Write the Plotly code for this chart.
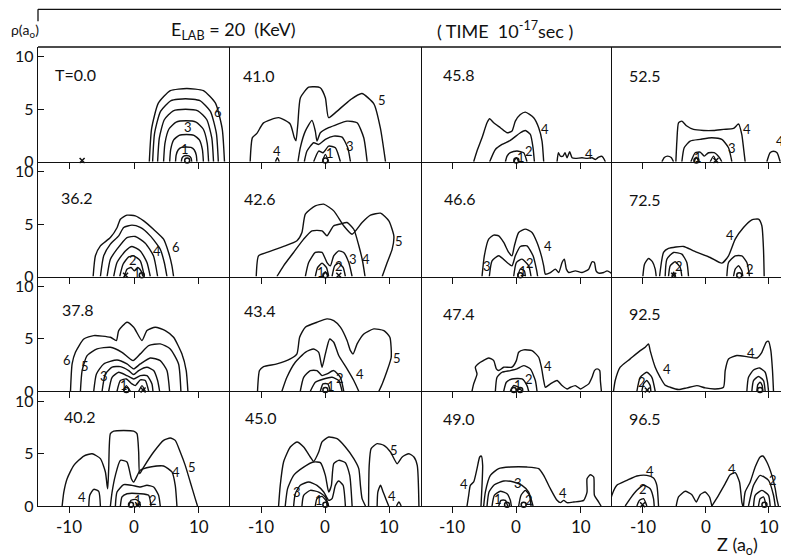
import plotly.graph_objects as go
from plotly.subplots import make_subplots

# ---------------- data ----------------
TIMES = ["T=0.0", "41.0", "45.8", "52.5",
         "36.2", "42.6", "46.6", "72.5",
         "37.8", "43.4", "47.4", "92.5",
         "40.2", "45.0", "49.0", "96.5"]

X_TICKS = [-10, 0, 10]
X_TICK_TEXT = ["-10", "0", "10"]
Y_TICKS = [0, 5, 10]

# each contour: (z values, rho values)
C_T000 = [
    ([2.36, 2.71, 3.75, 5.6, 8.15, 10.7, 12.56, 13.6, 13.95], [0, 3.14, 5.58, 6.77, 6.98, 6.77, 5.58, 3.14, 0]),
    ([2.87, 3.17, 4.09, 5.71, 7.94, 10.16, 11.78, 12.7, 13.0], [0, 2.7, 4.8, 5.82, 6.0, 5.82, 4.8, 2.7, 0]),
    ([3.64, 3.9, 4.67, 6.05, 7.95, 9.85, 11.23, 12.0, 12.26], [0, 2.25, 4.0, 4.85, 5.0, 4.85, 4.0, 2.25, 0]),
    ([4.56, 4.77, 5.39, 6.5, 8.03, 9.56, 10.67, 11.29, 11.5], [0, 1.76, 3.12, 3.78, 3.9, 3.78, 3.12, 1.76, 0]),
    ([5.5, 5.66, 6.12, 6.96, 8.1, 9.24, 10.08, 10.54, 10.7], [0, 1.17, 2.08, 2.52, 2.6, 2.52, 2.08, 1.17, 0]),
    ([6.4, 6.5, 6.8, 7.32, 8.05, 8.78, 9.3, 9.6, 9.7], [0, 0.63, 1.12, 1.36, 1.4, 1.36, 1.12, 0.63, 0]),
    ([7.3, 7.4, 7.75, 8.1, 8.45, 8.8, 8.9], [0, 0.35, 0.56, 0.6, 0.56, 0.35, 0]),
]
L_T000 = [("6", 13.0, 4.7), ("3", 8.4, 3.3), ("1", 7.9, 1.2)]
M_T000 = [("x", -8.0), ("o", 8.2)]

C_T410 = [
    ([-11.75, -11.4, -10.7, -9.66, -7.3, -5.5, -4.86, -4.6, -4.3, -3.9, -2.6, -0.8, 0, 0.5, 1.8, 3.9, 5.7, 7.6, 8.6, 9.4],
     [0, 2.3, 2.7, 3.7, 4.2, 3.6, 2.3, 2.0, 3.6, 6.1, 7.1, 7.05, 6.1, 4.2, 4.8, 5.9, 6.5, 5.5, 3.2, 0]),
    ([-4.28, -3.92, -3.13, -2.09, -1.57, -1.31, -0.78, 0.52, 3.39, 4.96, 6.0, 6.53],
     [0, 1.33, 2.92, 3.94, 2.92, 1.97, 2.76, 3.24, 3.87, 3.71, 2.29, 0]),
    ([-3.29, -2.87, -1.83, -1.04, 0, 1.31, 2.61, 3.5, 3.92], [0, 1.02, 1.81, 1.65, 2.13, 2.44, 2.35, 1.33, 0]),
    ([-1.83, -1.04, -0.37, 0.52, 1.57, 2.35], [0, 1.02, 0.86, 1.49, 1.33, 0]),
    ([-0.47, 0, 0.52], [0, 0.7, 0]),
    ([-7.8, -7.5, -7.2], [0, 0.38, 0]),
]
L_T410 = [("5", 8.9, 5.9), ("4", -7.5, 1.0), ("3", 3.9, 1.5), ("1", 0.8, 0.8)]
M_T410 = [("o", 0.0)]

C_T458 = [
    ([-6.65, -6.13, -5.35, -4.57, -4.16, -3.53, -2.49, -1.45, -0.68, -0.16, 0.62, 1.4, 2.7, 3.48, 4.0, 4.26],
     [0, 1.02, 2.29, 3.71, 4.1, 3.71, 3.24, 2.76, 2.92, 3.87, 4.5, 4.73, 4.19, 3.24, 1.97, 0]),
    ([-4.16, -3.27, -2.23, -0.94, 0.62, 1.4, 2.18, 2.6, 2.81], [0, 1.17, 1.65, 2.03, 2.76, 2.98, 2.6, 1.33, 0]),
    ([-1.71, -1.45, -0.94, 0.1, 1.14, 1.66], [0, 0.54, 0.86, 1.02, 0.86, 0]),
    ([-0.42, 0, 0.36], [0, 0.38, 0]),
    ([6.34, 6.55, 6.86, 7.27, 7.58, 7.9, 8.31, 8.68, 9.19, 10.23, 11.0, 11.79, 12.31, 12.83, 13.35, 13.87],
     [0, 0.86, 0.54, 0.54, 0.86, 0.38, 0.95, 0.38, 0.32, 0.38, 0.32, 0.38, 0.22, 0.44, 0.51, 0]),
]
L_T458 = [("4", 4.5, 3.1), ("2", 1.9, 1.0), ("1", 0.7, 0.5), ("4", 11.3, 0.75)]
M_T458 = [("o", 0.0)]

C_T525 = [
    ([-6.98, -6.6, -6.08, -5.5, -5.13], [0, 0.4, 0.54, 0.4, 0]),
    ([-4.76, -4.6, -4.34, -3.81, -3.02, -1.96, -0.37, 1.22, 2.8, 4.39, 5.19, 5.7, 5.98, 6.24],
     [0, 1.97, 3.71, 3.87, 3.4, 3.08, 2.98, 2.98, 3.08, 3.17, 3.6, 2.6, 1.33, 0]),
    ([-3.81, -3.44, -2.49, -0.9, 0.95, 2.54, 3.6, 4.13], [0, 1.33, 1.97, 2.13, 2.29, 2.13, 1.33, 0]),
    ([-2.38, -1.69, -0.9, -0.26, 0.42, 1.32, 2.17, 2.54], [0, 0.86, 0.92, 0.54, 0.86, 0.86, 0.38, 0]),
    ([-1.85, -1.53, -1.11], [0, 0.44, 0]),
    ([0.69, 1.22, 1.64], [0, 0.54, 0]),
    ([9.68, 10.2, 10.74, 11.3, 11.8], [0, 0.86, 1.0, 0.86, 0]),
    ([12.43, 12.8, 13.3], [0, 0.45, 0.8]),
]
L_T525 = [("4", 6.6, 3.1), ("3", 4.2, 1.3), ("1", -1.2, 0.5), ("4", 11.7, 2.0)]
M_T525 = [("o", -1.5), ("x", 1.6)]

C_T362 = [
    ([-6.3, -5.95, -5.18, -3.64, -2.6, -2.1, -1.08, 0.2, 1.5, 3.0, 4.56, 5.33, 5.85, 6.1],
     [0, 1.97, 2.92, 3.71, 4.67, 5.46, 5.84, 5.78, 5.3, 4.5, 3.56, 2.29, 1.02, 0]),
    ([-5.18, -4.67, -3.64, -2.36, -1.59, -0.31, 0.97, 2.51, 4.05, 4.67, 5.08],
     [0, 1.97, 3.08, 3.87, 4.67, 4.89, 4.67, 3.87, 2.6, 1.33, 0]),
    ([-4.15, -3.64, -2.62, -1.08, 0.2, 1.74, 3.0, 3.64], [0, 1.65, 2.6, 3.71, 3.81, 3.17, 1.97, 0]),
    ([-3.13, -2.62, -1.33, -0.31, 0.97, 2.0, 2.51], [0, 1.33, 2.44, 2.86, 2.44, 1.33, 0]),
    ([-2.2, -1.69, -0.82, -0.05, 0.97, 1.59], [0, 1.17, 1.87, 1.97, 1.49, 0]),
    ([-1.49, -1.08, -0.46, 0.05, 0.56, 1.08, 1.38], [0, 0.7, 0.86, 0.54, 0.86, 0.54, 0]),
]
L_T362 = [("6", 6.4, 2.8), ("4", 3.5, 2.4), ("2", -0.1, 1.6), ("1", 0.4, 0.3)]
M_T362 = [("x", -1.3), ("o", 1.2)]

C_T426 = [
    ([-10.8, -10.44, -9.14, -6.53, -4.44, -3.66, -3.13, -1.57, -0.26, 1.31, 2.87, 4.18, 5.74, 7.05, 8.62, 9.92, 10.7, 10.44, 9.66, 8.88],
     [0, 1.97, 2.29, 2.86, 3.4, 4.19, 5.94, 6.73, 6.89, 6.25, 4.83, 4.03, 5.14, 5.84, 6.03, 5.3, 3.87, 2.6, 1.33, 0]),
    ([-7.57, -6.53, -4.96, -3.39, -2.09, -0.52, 0.26, 0.78, 1.31, 2.35, 3.39, 4.44, 5.2, 5.8, 6.2],
     [0, 1.02, 2.29, 3.56, 4.35, 4.35, 3.87, 4.35, 4.83, 5.0, 5.14, 4.5, 3.0, 1.5, 0]),
    ([-3.13, -2.61, -1.57, -0.52, 0.26, 0.78, 1.31, 2.09, 2.87, 3.66, 4.18],
     [0, 1.33, 2.29, 2.29, 1.33, 1.02, 1.97, 2.44, 2.29, 1.33, 0]),
    ([-1.57, -1.2, -0.52, 0.16, 0.52], [0, 0.86, 1.27, 0.86, 0]),
    ([1.04, 1.46, 2.09, 2.77, 3.13], [0, 1.02, 1.27, 0.86, 0]),
    ([-0.4, 0, 0.4], [0, 0.45, 0]),
]
L_T426 = [("5", 11.5, 3.4), ("4", 6.4, 1.65), ("3", 4.3, 1.65), ("2", 2.2, 1.0), ("1", -0.7, 0.45)]
M_T426 = [("o", 0.0), ("x", 2.1)]

C_T466 = [
    ([-5.35, -4.99, -4.31, -3.53, -2.75, -1.97, -1.19, -0.68, -0.31, 0.36, 1.4, 2.44, 3.22, 3.9, 4.26, 4.52, 5.3, 6.08, 6.6,
      7.12, 7.48, 7.79, 8.16, 9.19, 10.23, 11.27, 11.79, 12.16, 12.42, 12.83, 13.61, 14.13, 14.65, 14.9],
     [0, 1.97, 3.56, 3.94, 3.87, 3.24, 2.29, 1.97, 2.92, 4.19, 4.51, 4.19, 3.24, 1.97, 1.02, 0.22, 0.38, 0.7, 0.38,
      1.33, 1.65, 0.7, 0.38, 0.54, 0.38, 0.7, 1.4, 1.33, 0.54, 0.32, 0.38, 0.54, 0.38, 0.22]),
    ([-4.21, -3.79, -2.75, -1.45, -0.68, -0.16, 0.62, 1.66, 2.6, 3.12, 3.32],
     [0, 1.49, 1.97, 1.33, 1.02, 1.97, 2.86, 2.92, 1.97, 0.7, 0]),
    ([-0.42, 0, 0.88, 1.92, 2.29], [0, 1.33, 1.65, 1.02, 0]),
    ([0.21, 0.62, 1.25, 1.4], [0, 0.7, 0.54, 0]),
]
L_T466 = [("4", 4.9, 2.9), ("3", -4.5, 1.0), ("2", 2.2, 1.3), ("1", 1.0, 0.55)]
M_T466 = [("o", 0.6)]

C_T725 = [
    ([-10.0, -9.74, -9.1, -8.47, -8.04, -7.88], [0, 1.17, 1.71, 1.4, 0.7, 0]),
    ([-7.35, -6.72, -5.93, -3.54, -1.96, 0.69, 2.54, 3.6, 4.66, 5.98, 7.3, 8.36, 8.89, 9.15, 9.26],
     [0, 2.29, 2.67, 2.86, 2.44, 1.81, 1.27, 1.97, 3.56, 4.67, 5.4, 5.46, 4.83, 2.6, 0]),
    ([-6.46, -6.19, -5.13, -3.81, -3.02, -2.75], [0, 1.65, 2.29, 2.13, 1.33, 0]),
    ([-5.93, -5.66, -4.87, -4.07, -3.81], [0, 1.02, 1.4, 0.86, 0]),
    ([-5.4, -5.1, -4.8], [0, 0.4, 0]),
    ([3.33, 3.6, 4.66, 5.71, 6.51, 6.93], [0, 1.33, 1.97, 1.97, 1.33, 0]),
    ([4.39, 4.66, 5.19, 5.71, 5.87], [0, 0.7, 1.02, 0.54, 0]),
]
L_T725 = [("4", 3.9, 4.0), ("2", -4.3, 1.0), ("2", 7.0, 0.7)]
M_T725 = [("x", -5.1), ("o", 5.3)]

C_T378 = [
    ([-9.79, -9.54, -9.03, -7.74, -6.21, -3.64, -2.72, -2.36, -1.08, -0.05, 1.23, 2.0, 3.28, 4.82, 6.1, 7.38, 8.05, 8.31],
     [0, 2.6, 3.71, 4.98, 5.3, 5.14, 4.83, 5.78, 6.57, 6.1, 4.83, 5.78, 6.1, 5.78, 5.14, 3.56, 1.97, 0]),
    ([-8.26, -8.0, -7.23, -5.69, -3.64, -1.85, -0.15, 0.97, 2.26, 4.05, 5.59, 6.87, 7.23],
     [0, 1.97, 3.4, 4.03, 4.19, 3.71, 2.92, 3.56, 4.35, 4.51, 4.03, 2.6, 0]),
    ([-6.21, -5.79, -4.67, -2.62, -1.08, -0.05, 0.97, 2.51, 4.05, 5.08, 5.49],
     [0, 1.65, 2.6, 2.98, 2.6, 2.13, 2.6, 3.17, 2.92, 1.97, 0]),
    ([-4.92, -4.41, -3.38, -2.1, -0.82, -0.05, 0.72, 2.0, 3.03, 3.64, 3.95],
     [0, 1.65, 2.29, 2.35, 1.97, 1.59, 1.97, 2.29, 1.97, 1.02, 0]),
    ([-3.9, -3.38, -2.36, -1.08, -0.05, 0.97, 2.0, 2.77, 2.92], [0, 1.33, 1.81, 1.49, 1.17, 1.49, 1.49, 0.7, 0]),
    ([-2.62, -2.1, -1.18, -0.31, 0.21, 0.97, 1.74, 2.26], [0, 1.02, 1.17, 0.7, 0.54, 1.08, 1.02, 0]),
    ([-1.59, -1.18, -0.56], [0, 0.54, 0]),
    ([0.72, 1.23, 1.74], [0, 0.54, 0]),
]
L_T378 = [("6", -10.3, 3.0), ("5", -7.6, 2.4), ("3", -4.6, 1.5), ("1", -1.5, 0.6)]
M_T378 = [("o", -1.18), ("x", 1.4)]

C_T434 = [
    ([-10.6, -10.29, -9.66, -7.57, -5.48, -4.44, -4.02, -3.13, -1.31, 0.26, 1.31, 2.35, 3.39, 3.92, 4.33, 4.96, 6.01, 7.57,
      9.14, 10.08, 10.29, 9.66, 8.88, 8.36],
     [0, 1.97, 2.35, 2.6, 3.08, 3.56, 5.14, 6.1, 6.57, 6.89, 6.73, 6.1, 4.83, 3.87, 3.56, 4.51, 5.46, 5.94,
      5.78, 5.14, 3.24, 1.97, 0.7, 0]),
    ([-6.79, -6.01, -4.7, -3.13, -1.83, -1.04, -0.52, 0, 0.68, 1.31, 2.09, 3.39, 4.44, 5.22],
     [0, 1.33, 2.76, 3.71, 4.03, 3.71, 2.29, 3.56, 4.98, 4.67, 3.4, 2.13, 1.02, 0]),
    ([-3.92, -3.39, -2.35, -1.31, -0.52, 0.26, 1.31, 2.35, 2.87], [0, 1.33, 1.97, 1.97, 1.49, 1.65, 1.97, 1.33, 0]),
    ([-2.35, -1.57, -0.26, 1.04, 2.09, 2.61], [0, 0.86, 1.17, 1.33, 1.02, 0]),
    ([-0.78, -0.37, 0.37, 0.78], [0, 0.7, 0.7, 0]),
]
L_T434 = [("5", 11.2, 3.2), ("4", 5.4, 1.65), ("2", 2.3, 1.25), ("1", 0.9, 0.5)]
M_T434 = [("o", 0.0)]

C_T474 = [
    ([-6.91, -6.65, -6.13, -6.39, -5.61, -4.31, -3.53, -3.12, -2.75, -1.97, -0.68, 0, 0.36, 1.14, 2.44, 3.48, 3.9, 4.26, 4.52,
      5.3, 6.34, 7.12, 7.9, 8.42, 9.19, 9.97, 10.49, 11.27, 11.79, 12.16, 12.57, 12.99, 13.09, 13.25],
     [0, 0.7, 1.65, 2.29, 2.76, 3.17, 2.92, 2.13, 1.97, 2.29, 2.29, 2.92, 3.71, 3.94, 3.87, 3.24, 2.29, 1.02, 0.38,
      0.7, 1.02, 0.54, 0.22, 0.38, 0.54, 0.22, 0.38, 0.7, 1.33, 1.97, 2.13, 1.97, 1.02, 0]),
    ([-3.27, -3.01, -2.23, -0.94, 0.1, 1.14, 2.18, 2.96, 3.22], [0, 1.33, 1.81, 1.97, 2.13, 2.44, 2.13, 1.02, 0]),
    ([-1.97, -1.56, -0.68, 0.88, 1.66, 1.92], [0, 0.86, 1.17, 1.17, 0.54, 0]),
    ([-0.94, -0.42, 0.36, 0.88], [0, 0.54, 0.38, 0]),
]
L_T474 = [("4", 5.0, 2.45), ("2", 2.0, 1.2), ("1", 0.2, 0.6)]
M_T474 = [("o", -0.4), ("o", 0.6)]

C_T925 = [
    ([-14.66, -14.39, -13.6, -12.01, -10.42, -9.63, -9.1, -8.84, -8.04, -7.25, -6.5, -5.66, -4.34, -3.02, -1.43, -0.1, 1.48,
      2.8, 3.07, 3.6, 4.92, 6.51, 8.1, 8.89, 9.58, 9.95, 10.32, 10.58, 10.74],
     [0, 1.02, 2.29, 3.08, 3.87, 4.19, 4.51, 3.87, 2.29, 1.33, 0.6, 0.38, 0.16, 0.32, 0.54, 0.32, 0.22,
      0.38, 1.97, 3.08, 3.4, 3.3, 3.17, 3.71, 4.67, 4.76, 3.87, 1.97, 0]),
    ([-10.95, -10.42, -9.37, -8.57, -8.04], [0, 1.33, 1.81, 1.33, 0]),
    ([-10.16, -9.89, -9.37, -8.84, -8.73], [0, 0.7, 1.02, 0.54, 0]),
    ([6.51, 6.77, 7.57, 8.52, 9.42, 9.79, 9.95], [0, 1.33, 2.03, 2.22, 1.81, 0.86, 0]),
    ([7.3, 7.57, 8.36, 9.15, 9.42], [0, 1.02, 1.4, 1.02, 0]),
    ([8.1, 8.25, 8.62, 8.94, 9.05], [0, 0.63, 0.86, 0.54, 0]),
]
L_T925 = [("4", 7.1, 3.6), ("4", -6.1, 2.1), ("2", -10.2, 0.9)]
M_T925 = [("x", -9.3), ("o", 8.6)]

C_T402 = [
    ([-11.08, -10.82, -10.31, -9.28, -7.74, -6.46, -5.18, -4.41, -4.15, -4.05, -3.9, -3.64, -3.13, -0.05, 0.46, 0.72, 0.87,
      1.49, 3.03, 4.56, 5.59, 6.36, 7.13, 7.9, 8.67, 9.44, 9.79],
     [0, 1.33, 2.6, 3.87, 4.76, 4.98, 4.51, 3.24, 1.97, 1.65, 3.56, 6.89, 7.14, 7.14, 6.89, 5.14, 3.08,
      3.71, 5.14, 6.25, 6.48, 6.25, 5.14, 3.87, 2.29, 0.7, 0]),
    ([-6.97, -6.82, -6.21, -5.44, -5.18], [0, 1.02, 1.59, 1.4, 0]),
    ([-3.64, -3.38, -2.87, -2.1, -1.08, -0.41, -0.05, 0.97, 2.51, 4.56, 5.85, 6.36, 6.62],
     [0, 1.33, 2.92, 4.35, 4.19, 2.6, 2.29, 3.4, 3.71, 3.81, 3.24, 1.97, 0]),
    ([-2.87, -2.62, -1.59, -0.31, 0.97, 2.0, 3.03, 3.79, 4.05], [0, 1.33, 2.03, 1.97, 1.81, 1.97, 1.81, 1.02, 0]),
    ([-2.1, -1.85, -1.08, 0.97, 2.26, 2.62], [0, 0.86, 1.17, 1.17, 1.02, 0]),
    ([-0.82, -0.46, 0.21, 0.87, 0.97], [0, 0.54, 0.63, 0.38, 0]),
]
L_T402 = [("5", 8.9, 3.7), ("4", 6.4, 3.2), ("4", -8.0, 0.9), ("2", 2.9, 0.55), ("1", 0.6, 0.55)]
M_T402 = [("o", -0.46), ("x", 0.56)]

C_T450 = [
    ([-7.31, -7.05, -6.53, -5.48, -4.44, -3.39, -2.35, -1.83, -1.04, -0.52, 0.52, 1.83, 3.13, 4.44, 5.22, 5.48, 5.74, 6.27],
     [0, 1.97, 4.19, 5.62, 6.1, 5.62, 4.67, 4.25, 5.14, 6.1, 6.57, 6.41, 5.62, 4.51, 3.56, 1.97, 0.7, 0]),
    ([6.75, 6.85, 7.15, 8.09, 9.14, 10.18, 11.23, 12.01, 13.05, 13.84, 14.36, 14.62],
     [0, 3.87, 5.46, 5.94, 5.78, 5.14, 4.03, 4.67, 4.98, 4.67, 3.87, 0]),
    ([-6.27, -5.9, -4.96, -3.39, -1.83, -0.78, 0, 0.52, 0.94, 1.31, 2.09, 3.13, 3.81, 4.18],
     [0, 1.65, 2.92, 3.71, 4.19, 4.13, 2.92, 1.33, 1.97, 4.03, 4.35, 4.13, 2.92, 0]),
    ([-4.96, -4.7, -3.92, -2.61, -1.31, -0.26, 0.52, 1.04, 1.57, 2.09, 2.77, 3.13],
     [0, 1.17, 1.97, 2.29, 1.97, 1.33, 0.54, 0.7, 1.97, 2.38, 1.97, 0]),
    ([-3.66, -3.39, -2.35, -1.04, 0, 0.52], [0, 1.02, 1.49, 1.33, 0.86, 0]),
    ([-1.57, -1.31, -0.52, 0.16, 0.26], [0, 0.7, 0.92, 0.44, 0]),
    ([8.09, 8.2, 8.62, 9.03, 9.5, 9.9], [0, 1.33, 1.97, 1.33, 0.6, 0]),
    ([11.12, 11.49, 11.85], [0, 0.38, 0]),
]
L_T450 = [("5", 10.7, 5.3), ("3", -4.4, 1.33), ("1", -1.0, 0.55), ("4", 10.4, 1.0)]
M_T450 = [("o", 0.0)]

C_T490 = [
    ([-7.69, -7.43, -7.17, -6.65, -6.13, -5.71, -5.45, -5.25, -5.35, -5.51], [0, 1.02, 1.97, 2.29, 3.56, 4.67, 4.76, 3.87, 1.97, 0]),
    ([-5.09, -4.83, -4.05, -2.75, -0.94, 1.66, 3.48, 4.26, 5.3, 6.34, 6.86, 7.38, 7.9, 8.94, 10.49, 11.01, 11.01, 11.53,
      12.05, 12.16, 12.83, 13.2],
     [0, 1.33, 2.92, 3.56, 3.71, 3.71, 3.56, 2.92, 1.65, 0.54, 0.32, 0.54, 0.32, 0.38, 0.54, 1.33, 2.6, 2.98,
      2.76, 1.02, 0.38, 0]),
    ([-4.57, -4.26, -3.43, -1.97, -0.42, 0.88, 1.92, 2.6], [0, 1.33, 2.03, 2.38, 2.29, 1.97, 1.33, 0]),
    ([-3.79, -3.43, -2.49, -1.45, -0.94, -0.78], [0, 1.02, 1.4, 1.17, 0.54, 0]),
    ([0.36, 0.73, 1.4, 2.03, 2.29], [0, 1.02, 1.49, 1.02, 0]),
    ([-2.75, -2.39, -1.71, -1.35], [0, 0.54, 0.54, 0]),
]
L_T490 = [("4", -8.2, 2.1), ("3", 0.2, 2.2), ("4", 7.3, 1.2), ("2", 2.0, 0.6), ("1", -2.9, 0.7)]
M_T490 = [("o", -1.45), ("o", 1.14)]

C_T965 = [
    ([-15.3, -14.92, -14.13, -12.54, -10.95, -9.37, -8.31, -7.78, -7.51], [0, 1.02, 1.97, 2.44, 2.86, 2.92, 2.67, 1.97, 0]),
    ([-12.8, -12.01, -10.95, -9.89, -8.84, -8.31, -8.2], [0, 0.7, 1.49, 1.97, 1.65, 0.7, 0]),
    ([-10.95, -10.53, -9.89, -9.37], [0, 0.54, 0.7, 0]),
    ([-4.71, -4.34, -3.28, -2.22, -1.53, -0.9, -0.11, 0.58, 0.95], [0, 0.86, 1.4, 1.08, 0.38, 1.08, 1.33, 0.86, 0]),
    ([0.95, 2.01, 3.07, 3.86, 4.66, 5.34, 5.71, 5.87], [0, 1.02, 2.13, 2.98, 3.17, 2.29, 0.38, 0]),
    ([5.98, 6.24, 7.04, 7.83, 8.62, 9.05, 9.68, 10.48, 11.01, 11.27, 11.53], [0, 1.33, 2.29, 3.71, 4.67, 4.76, 4.19, 2.92, 1.65, 0.7, 0]),
    ([6.77, 7.57, 8.62, 9.95, 10.74, 11.01], [0, 1.97, 2.92, 2.44, 1.02, 0]),
    ([7.57, 7.83, 8.89, 9.95, 10.21], [0, 1.02, 1.49, 1.02, 0]),
    ([8.36, 8.62, 9.15, 9.58], [0, 0.7, 0.86, 0]),
]
L_T965 = [("4", -8.9, 3.3), ("2", -9.9, 1.6), ("4", 4.2, 3.5), ("2", 10.7, 2.5)]
M_T965 = [("x", -10.05), ("o", 9.3)]

CURVES = [C_T000, C_T410, C_T458, C_T525,
          C_T362, C_T426, C_T466, C_T725,
          C_T378, C_T434, C_T474, C_T925,
          C_T402, C_T450, C_T490, C_T965]
LABELS = [L_T000, L_T410, L_T458, L_T525,
          L_T362, L_T426, L_T466, L_T725,
          L_T378, L_T434, L_T474, L_T925,
          L_T402, L_T450, L_T490, L_T965]
MARKS = [M_T000, M_T410, M_T458, M_T525,
         M_T362, M_T426, M_T466, M_T725,
         M_T378, M_T434, M_T474, M_T925,
         M_T402, M_T450, M_T490, M_T965]

# ---------------- layout / style ----------------
COL_RANGES = [[-14.8, 14.8], [-14.9, 15.1], [-14.7, 14.9], [-14.9, 13.2]]
Y_RANGE = [0, 10.93]
TIME_POS = [(-12.5, 8.3), (-13.2, 8.2), (-11.7, 8.3), (-12.5, 8.2),
            (-11.6, 7.5), (-13.0, 7.4), (-11.6, 7.4), (-12.5, 7.3),
            (-11.4, 7.8), (-13.0, 7.7), (-11.7, 7.4), (-12.5, 7.4),
            (-11.1, 8.5), (-12.9, 8.4), (-11.7, 8.3), (-12.5, 8.3)]

FONT = "Lato, 'Liberation Sans', Arial, sans-serif"
INK = "#111111"

fig = make_subplots(rows=4, cols=4, horizontal_spacing=0, vertical_spacing=0,
                    column_widths=[192, 192, 190, 177])

for idx in range(16):
    r, c = idx // 4 + 1, idx % 4 + 1
    for zs, rs in CURVES[idx]:
        fig.add_trace(go.Scatter(x=zs, y=rs, mode="lines",
                                 line=dict(color=INK, width=1.4, shape="spline", smoothing=0.55),
                                 hoverinfo="skip", showlegend=False), row=r, col=c)
    for sym, zpos in MARKS[idx]:
        fig.add_trace(go.Scatter(x=[zpos], y=[0.12], mode="markers", cliponaxis=False,
                                 marker=dict(symbol="circle-open" if sym == "o" else "x-thin-open",
                                             size=5, color=INK, line=dict(width=1.5, color=INK)),
                                 hoverinfo="skip", showlegend=False), row=r, col=c)
    n = "" if idx == 0 else str(idx + 1)
    for txt, zx, ry in LABELS[idx]:
        fig.add_annotation(x=zx, y=ry, xref="x" + n, yref="y" + n, text=txt, showarrow=False,
                           xanchor="center", yanchor="middle",
                           font=dict(family=FONT, size=13, color=INK))
    tx, ty = TIME_POS[idx]
    fig.add_annotation(x=tx, y=ty, xref="x" + n, yref="y" + n, text=TIMES[idx], showarrow=False,
                       xanchor="left", yanchor="middle", font=dict(family=FONT, size=16, color=INK))
    if r == 4:
        for v, t in zip(X_TICKS, X_TICK_TEXT):
            fig.add_annotation(x=v, y=0, xref="x" + n, yref="y" + n, text=t, showarrow=False,
                               xanchor="center", yanchor="top", yshift=-8,
                               font=dict(family=FONT, size=17, color=INK))

    fig.update_xaxes(range=COL_RANGES[c - 1], showline=True, linecolor=INK, linewidth=1.3,
                     ticks="outside", ticklen=6, tickwidth=1.2, tickcolor=INK,
                     tickvals=X_TICKS, showticklabels=False, showgrid=False, zeroline=False,
                     row=r, col=c)
    fig.update_yaxes(range=Y_RANGE, showline=True, linecolor=INK, linewidth=1.3,
                     ticks="inside" if c == 1 else "", ticklen=6, tickwidth=1.2, tickcolor=INK,
                     tickvals=Y_TICKS, showticklabels=(c == 1), showgrid=False, zeroline=False,
                     tickfont=dict(family=FONT, size=16, color=INK), row=r, col=c)

# header frame
fig.add_shape(type="line", xref="paper", yref="paper", x0=0, x1=1, y0=1, y1=1,
              line=dict(color=INK, width=1.3))
fig.add_shape(type="line", xref="paper", yref="paper", x0=0, x1=1, y0=1.082, y1=1.082,
              line=dict(color=INK, width=1.3))
fig.add_shape(type="line", xref="paper", yref="paper", x0=0, x1=0, y0=1.082, y1=1.056,
              line=dict(color=INK, width=1.3))

fig.add_annotation(x=-0.039, y=1.035, xref="paper", yref="paper", showarrow=False,
                   xanchor="left", yanchor="middle",
                   text="ρ(a<sub>o</sub>)", font=dict(family=FONT, size=14, color=INK))
fig.add_annotation(x=0.26, y=1.037, xref="paper", yref="paper", showarrow=False,
                   xanchor="center", yanchor="middle",
                   text="E<sub>LAB</sub> = 20  (KeV)", font=dict(family=FONT, size=18, color=INK))
fig.add_annotation(x=0.622, y=1.037, xref="paper", yref="paper", showarrow=False,
                   xanchor="center", yanchor="middle",
                   text="( TIME  10<sup>-17</sup>sec )", font=dict(family=FONT, size=18, color=INK))
fig.add_annotation(x=0.932, y=-0.087, xref="paper", yref="paper", showarrow=False,
                   xanchor="center", yanchor="middle",
                   text="Z (a<sub>o</sub>)", font=dict(family=FONT, size=18, color=INK))

# the page adds an 8 px body margin, so the figure is 8 px smaller and offset
fig.update_layout(width=781, height=549, margin=dict(l=30, r=0, t=39, b=51),
                  paper_bgcolor="white", plot_bgcolor="white", showlegend=False)

fig.write_html("out.html")
